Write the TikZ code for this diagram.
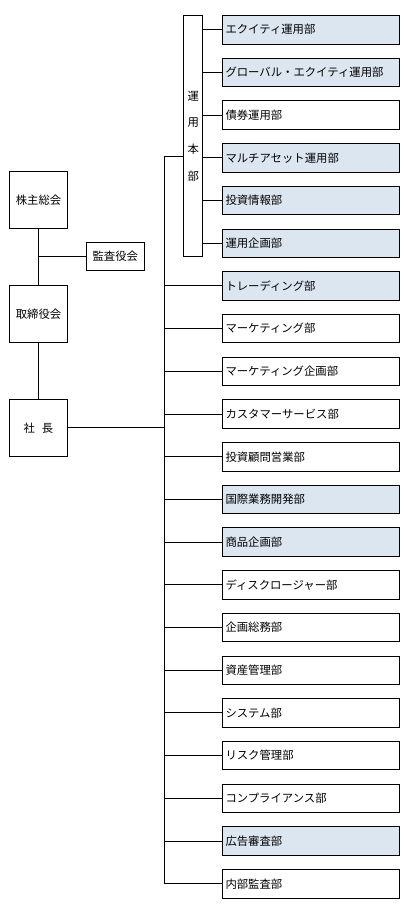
\documentclass[tikz,border=0pt]{standalone}
\usepackage{fontspec}
\setmainfont{Noto Sans CJK JP}
\definecolor{shade}{HTML}{DCE6F1}
\begin{document}
\begin{tikzpicture}[x=1bp,y=-1bp,
  every node/.style={font=\fontsize{11.4}{13}\selectfont, line width=0.9bp},
  dept/.style={draw, anchor=north west, minimum width=176.5bp, minimum height=28.5bp,
     text width=171bp, inner xsep=2.7bp, inner ysep=0pt, align=left},
  lbox/.style={draw, minimum width=58.3bp, minimum height=57bp, inner sep=0pt, align=center},
  conn/.style={line width=0.9bp}]
\useasboundingbox (0,0) rectangle (410,914);
% vertical headquarters box
\node[draw, anchor=north west, minimum width=19bp, minimum height=241.5bp, inner sep=0pt,
  align=center, font=\fontsize{11.4}{26.7}\selectfont] (hq) at (183.3,14.8) {運\\用\\本\\部};
% departments
\foreach \i/\t/\f in {0/エクイティ運用部/shade, 1/グローバル・エクイティ運用部/shade, 2/債券運用部/white,
  3/マルチアセット運用部/shade, 4/投資情報部/shade, 5/運用企画部/shade, 6/トレーディング部/shade,
  7/マーケティング部/white, 8/マーケティング企画部/white, 9/カスタマーサービス部/white,
  10/投資顧問営業部/white, 11/国際業務開発部/shade, 12/商品企画部/shade, 13/ディスクロージャー部/white,
  14/企画総務部/white, 15/資産管理部/white, 16/システム部/white, 17/リスク管理部/white,
  18/コンプライアンス部/white, 19/広告審査部/shade, 20/内部監査部/white}
  {\node[dept, fill=\f] (d\i) at (222.3, {15+42.7*\i}) {\t};}
% left column
\node[lbox] (gm) at (38.5,200) {株主総会};
\node[lbox] (bd) at (38.5,313.8) {取締役会};
\node[lbox] (pres) at (38.5,427.8) {社\hspace{0.6em}長};
\node[draw, minimum width=58bp, minimum height=28bp, inner sep=0pt] (aud) at (115.3,256.3) {監査役会};
\draw[conn] (gm.south) -- (bd.north);
\draw[conn] (bd.south) -- (pres.north);
\draw[conn] (aud.west) -- (aud.west -| gm.south);
% hq connectors
\foreach \i in {0,...,5} {\draw[conn] (hq.east |- d\i.west) -- (d\i.west);}
% trunk
\coordinate (tTop) at (164.7,156.3);
\draw[conn] (hq.west |- tTop) -- (tTop) -- (tTop |- d20.west) -- (d20.west);
\foreach \i in {6,...,19} {\draw[conn] (tTop |- d\i.west) -- (d\i.west);}
\draw[conn] (pres.east) -- (pres.east -| tTop);
\end{tikzpicture}
\end{document}
